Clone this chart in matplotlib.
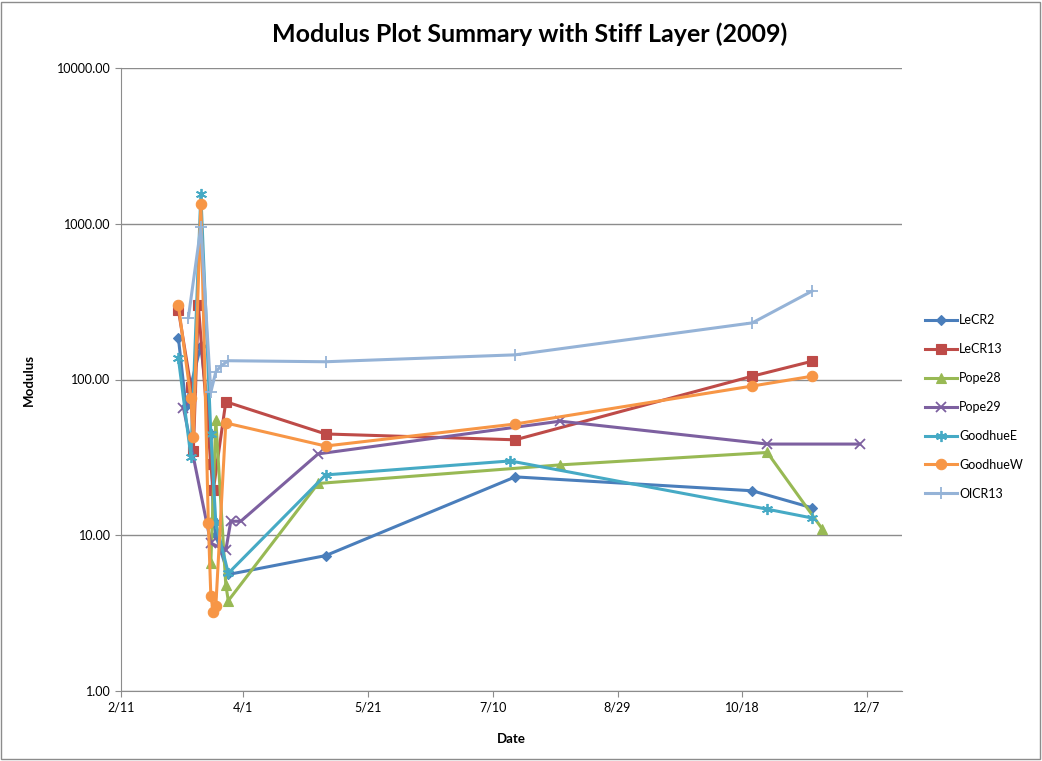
import numpy as np
import pandas as pd
import matplotlib
matplotlib.use("Agg")
import matplotlib.pyplot as plt
from matplotlib.patches import Rectangle

plt.rcParams['font.family'] = ['Lato', 'DejaVu Sans']

# ---- data ----
lecr2_dates = ["2009-03-06", "2009-03-09", "2009-03-15", "2009-03-19", "2009-03-20", "2009-03-21",
               "2009-03-26", "2009-05-04", "2009-07-19", "2009-10-22", "2009-11-15"]
lecr2_vals = [185, 68, 165, 45, 12.5, 10, 5.6, 7.4, 23.7, 19.3, 15]

lecr13_dates = ["2009-03-06", "2009-03-11", "2009-03-12", "2009-03-14", "2009-03-19", "2009-03-20",
                "2009-03-25", "2009-05-04", "2009-07-19", "2009-10-22", "2009-11-15"]
lecr13_vals = [280, 90, 35, 300, 28.5, 19.5, 72, 44.7, 41, 105, 131]

pope28_dates = ["2009-03-19", "2009-03-21", "2009-03-25", "2009-03-26", "2009-05-01", "2009-08-06",
                "2009-10-28", "2009-11-19"]
pope28_vals = [6.6, 55, 4.8, 3.8, 21.5, 28.3, 34, 11]

pope29_dates = ["2009-03-08", "2009-03-19", "2009-03-25", "2009-03-27", "2009-03-31", "2009-05-01",
                "2009-08-06", "2009-10-28", "2009-12-04"]
pope29_vals = [66, 8.9, 8.0, 12.3, 12.3, 33.3, 54, 38.5, 38.5]

goodhuee_dates = ["2009-03-06", "2009-03-11", "2009-03-15", "2009-03-19", "2009-03-21", "2009-03-26",
                  "2009-05-04", "2009-07-17", "2009-10-28", "2009-11-15"]
goodhuee_vals = [137, 32, 1550, 45, 12, 5.7, 24.4, 30, 14.7, 12.9]

goodhuew_dates = ["2009-03-06", "2009-03-11", "2009-03-12", "2009-03-15", "2009-03-18", "2009-03-19",
                  "2009-03-20", "2009-03-21", "2009-03-25", "2009-05-04", "2009-07-19", "2009-10-22",
                  "2009-11-15"]
goodhuew_vals = [300, 76, 43, 1340, 12, 4.1, 3.2, 3.5, 52.6, 37.4, 51.8, 90.8, 105]

olcr13_dates = ["2009-03-10", "2009-03-15", "2009-03-19", "2009-03-21", "2009-03-23", "2009-03-26",
                "2009-05-04", "2009-07-19", "2009-10-22", "2009-11-15"]
olcr13_vals = [250, 950, 83, 112, 122, 132, 130, 144, 231, 370]

tick_dates = ["2009-02-11", "2009-04-01", "2009-05-21", "2009-07-10", "2009-08-29", "2009-10-18", "2009-12-07"]
y_ticks = [1, 10, 100, 1000, 10000]

series = [
    ("LeCR2", lecr2_dates, lecr2_vals, "#4A7EBB", "D", 5.5),
    ("LeCR13", lecr13_dates, lecr13_vals, "#BE4B48", "s", 7),
    ("Pope28", pope28_dates, pope28_vals, "#98B954", "^", 7.5),
    ("Pope29", pope29_dates, pope29_vals, "#7D60A0", "x", 7),
    ("GoodhueE", goodhuee_dates, goodhuee_vals, "#46AAC5", (6, 2, 0), 8),
    ("GoodhueW", goodhuew_dates, goodhuew_vals, "#F79646", "o", 7.5),
    ("OlCR13", olcr13_dates, olcr13_vals, "#95B3D7", "+", 8),
]

fig = plt.figure(figsize=(10.42, 7.61), dpi=100)
ax = fig.add_axes([121 / 1042, 1 - 691 / 761, (902 - 121) / 1042, (691 - 68) / 761])

for name, d, v, c, m, ms in series:
    ax.plot(pd.to_datetime(d), v, color=c, marker=m, markersize=ms, linewidth=2.2,
            markeredgewidth=1.3 if m in ("x", "+", (6, 2, 0)) else 0.8,
            markeredgecolor=c, label=name)

ax.set_yscale("log")
ax.set_ylim(1, 10000)
ax.set_yticks(y_ticks)
ax.yaxis.set_major_formatter(plt.FuncFormatter(lambda v, p: f"{v:.2f}"))
ax.yaxis.set_minor_locator(matplotlib.ticker.NullLocator())

ticks = pd.to_datetime(tick_dates)
ax.set_xlim(ticks[0], pd.Timestamp("2009-12-21"))
ax.set_xticks(ticks)
ax.set_xticklabels([f"{t.month}/{t.day}" for t in ticks])

ax.grid(axis="y", color="#8C8C8C", linewidth=1)
ax.set_axisbelow(True)
for s in ("top", "right"):
    ax.spines[s].set_visible(False)
for s in ("left", "bottom"):
    ax.spines[s].set_color("#8C8C8C")
ax.tick_params(axis="both", colors="#8C8C8C", labelcolor="black", labelsize=9, length=4)

ax.set_xlabel("Date", fontsize=9.5, fontweight="bold", labelpad=14)
ax.set_ylabel("Modulus", fontsize=9.5, fontweight="bold", labelpad=16)
fig.suptitle("Modulus Plot Summary with Stiff Layer (2009)", fontsize=18, fontweight="bold",
             x=530 / 1042, y=1 - 34 / 761, va="center")

fig.legend(loc="center left", bbox_to_anchor=(922 / 1042, 1 - 407 / 761), frameon=False,
           fontsize=9, labelspacing=1.35, handlelength=2.6, handletextpad=0.15,
           borderaxespad=0, borderpad=0.2)

fig.patches.append(Rectangle((0.001, 0.002), 0.997, 0.996, transform=fig.transFigure,
                             fill=False, edgecolor="#8C8C8C", linewidth=1))

fig.savefig("out.png", dpi=100)
